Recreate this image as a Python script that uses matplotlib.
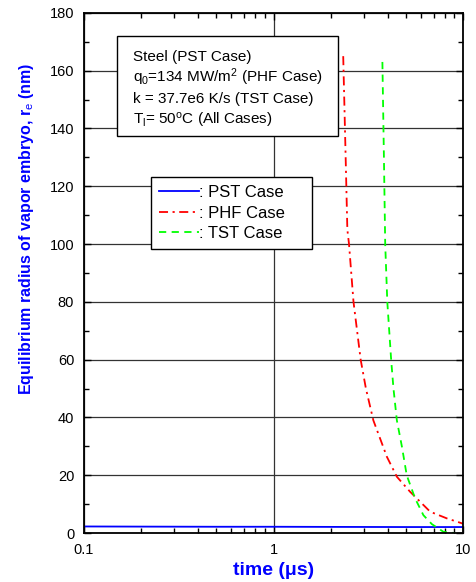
import matplotlib
matplotlib.use("Agg")
import matplotlib.pyplot as plt
from matplotlib.patches import Rectangle
from matplotlib.ticker import FixedLocator, LogLocator, NullFormatter, MultipleLocator

plt.rcParams['font.family'] = ['Liberation Sans', 'DejaVu Sans']
plt.rcParams['mathtext.fontset'] = 'custom'
plt.rcParams['mathtext.rm'] = 'Liberation Sans'
plt.rcParams['mathtext.it'] = 'Liberation Sans:italic'
plt.rcParams['mathtext.bf'] = 'Liberation Sans:bold'

# PST case: nearly constant radius
pst_t = [0.1, 0.2, 0.5, 1, 2, 5, 10]
pst_r = [2.3, 2.25, 2.2, 2.2, 2.15, 2.1, 2.1]

# PHF case
phf_t = [2.33, 2.40, 2.45, 2.50, 2.64, 2.88, 3.07, 3.36, 3.96, 4.47, 5.25, 6.70, 8.20, 9.84, 10.0]
phf_r = [165, 130, 105, 100, 80, 60, 50, 39, 26.4, 19.5, 14.3, 7.4, 5.1, 3.4, 3.2]

# TST case
tst_t = [3.75, 3.82, 3.88, 3.98, 4.17, 4.29, 4.47, 4.75, 5.04, 5.58, 6.17, 6.84, 7.87, 9.07]
tst_r = [163, 130, 100, 80, 60, 50, 39, 30, 20, 12, 6.2, 3.1, 0.45, 0.0]

info_lines = ["Steel (PST Case)",
              "q$_{\\mathrm{0}}$=134 MW/m$^{\\mathrm{2}}$ (PHF Case)",
              "k = 37.7e6 K/s (TST Case)",
              "T$_{\\mathrm{l}}$= 50$^{\\mathrm{o}}$C (All Cases)"]

fig = plt.figure(figsize=(4.77, 5.82), dpi=100)
ax = fig.add_axes([0.176, 0.084, 0.795, 0.894])

ax.plot(pst_t, pst_r, color='#0000ff', lw=1.3, label=': PST Case')
ax.plot(phf_t, phf_r, color='#ff0000', lw=1.3, dashes=[5, 2.5, 1.2, 2.5], label=': PHF Case')
ax.plot(tst_t, tst_r, color='#00ff00', lw=1.3, dashes=[4, 3], label=': TST Case')

ax.set_xscale('log')
ax.set_xlim(0.1, 10)
ax.set_ylim(0, 180)
ax.xaxis.set_major_locator(FixedLocator([0.1, 1, 10]))
ax.set_xticklabels(['0.1', '1', '10'])
ax.xaxis.set_minor_locator(LogLocator(base=10, subs=range(2, 10)))
ax.xaxis.set_minor_formatter(NullFormatter())
ax.yaxis.set_major_locator(MultipleLocator(20))
ax.yaxis.set_minor_locator(MultipleLocator(10))

ax.grid(True, which='major', color='#333333', lw=0.9)
ax.set_axisbelow(True)
for s in ax.spines.values():
    s.set_linewidth(1.3)
ax.tick_params(which='both', direction='in', top=True, right=True, labelsize=10.5, width=1)
ax.tick_params(which='major', length=5, pad=7)
ax.tick_params(which='minor', length=3.5)

ax.set_xlabel('time (μs)', color='#0000ff', fontsize=14, fontweight='bold', labelpad=4)
ax.set_ylabel('Equilibrium radius of vapor embryo, r$_{\\mathrm{e}}$ (nm)',
              color='#0000ff', fontsize=11.5, fontweight='bold')
ax.yaxis.set_label_coords(-0.127, 0.585)

# info box
ax.add_patch(Rectangle((0.087, 0.764), 0.583, 0.192, transform=ax.transAxes,
                       facecolor='white', edgecolor='black', lw=1, zorder=4))
for i, line in enumerate(info_lines):
    ax.text(0.129, 0.908 - i * 0.0408, line, transform=ax.transAxes,
            fontsize=11, va='baseline', ha='left', zorder=5)

leg = ax.legend(loc='upper left', bbox_to_anchor=(0.177, 0.40, 0.425, 0.285), mode='expand',
                borderaxespad=0, fontsize=12, handlelength=2.4, handletextpad=0,
                labelspacing=0.33, fancybox=False, framealpha=1, edgecolor='black',
                borderpad=0.5)
leg.get_frame().set_linewidth(1)
leg.set_zorder(5)

fig.savefig('out.png', dpi=100)
